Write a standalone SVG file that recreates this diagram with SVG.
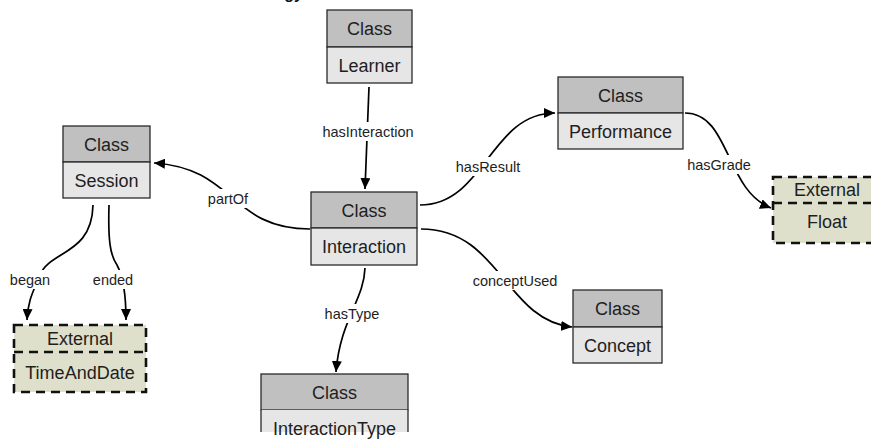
<svg xmlns="http://www.w3.org/2000/svg" width="871" height="441" viewBox="0 0 871 441">
<style>
.hdr{fill:#c0c0c0;stroke:#2a2a2a;stroke-width:1.3}
.bdy{fill:#e6e6e6;stroke:#2a2a2a;stroke-width:1.3}
.ext{fill:#dee0cb;stroke:none}
.dash{fill:none;stroke:#111;stroke-width:2.6;stroke-dasharray:9 6}
.nt{font-family:"Liberation Sans",Arial,sans-serif;font-size:18px;fill:#1e1e1e;text-anchor:middle}
.lbl{font-family:"Liberation Sans",Arial,sans-serif;font-size:14.5px;fill:#1e1e1e;text-anchor:middle}
.edge{fill:none;stroke:#000;stroke-width:1.7;marker-end:url(#arr)}
.lbg{fill:#fff}
.ttl{font-family:"Liberation Sans",Arial,sans-serif;font-size:16px;font-weight:bold;fill:#111;text-anchor:end}
</style>
<defs>
<marker id="arr" markerUnits="userSpaceOnUse" markerWidth="12" markerHeight="10" refX="11" refY="5" orient="auto">
<path d="M0,0 L11,5 L0,10 z" fill="#000"/>
</marker>
</defs>
<rect width="871" height="441" fill="#fff"/>
<text class="ttl" x="303" y="-1">Ontology</text>

<g id="connectors">
<path class="edge" d="M369 87 L365 189"/>
<path class="edge" d="M310 229 C230 229 235 168 154 163"/>
<path class="edge" d="M93 205 C92 255 50 250 40 275 C33 292 28 300 27 320"/>
<path class="edge" d="M109 205 C108 240 110 255 117 265 C124 278 126 295 126 320"/>
<path class="edge" d="M365 268 C364 300 340 320 336 372"/>
<path class="edge" d="M420 205 C485 205 490 113 555 113"/>
<path class="edge" d="M685 113 C730 113 725 190 771 208"/>
<path class="edge" d="M421 229 C500 229 505 320 572 327"/>
<rect class="lbg" x="320" y="122" width="96" height="19"/>
<text class="lbl" x="368" y="137">hasInteraction</text>
<rect class="lbg" x="206" y="189" width="44" height="19"/>
<text class="lbl" x="228" y="204">partOf</text>
<rect class="lbg" x="8" y="270" width="44" height="19"/>
<text class="lbl" x="30" y="285">began</text>
<rect class="lbg" x="91" y="270" width="44" height="19"/>
<text class="lbl" x="113" y="285">ended</text>
<rect class="lbg" x="323" y="304" width="58" height="19"/>
<text class="lbl" x="352" y="319">hasType</text>
<rect class="lbg" x="455" y="157" width="66" height="19"/>
<text class="lbl" x="488" y="172">hasResult</text>
<rect class="lbg" x="686" y="155" width="66" height="19"/>
<text class="lbl" x="719" y="170">hasGrade</text>
<rect class="lbg" x="472" y="271" width="87" height="19"/>
<text class="lbl" x="515" y="286">conceptUsed</text>
</g>

<g id="node-learner">
<rect class="hdr" x="327" y="10" width="85" height="37"/>
<rect class="bdy" x="327" y="47" width="85" height="36"/>
<text class="nt" x="369.5" y="35">Class</text>
<text class="nt" x="369.5" y="71.5">Learner</text>
</g>

<g id="node-session">
<rect class="hdr" x="63" y="126" width="87" height="36"/>
<rect class="bdy" x="63" y="162" width="87" height="36"/>
<text class="nt" x="106.5" y="150.5">Class</text>
<text class="nt" x="106.5" y="186.5">Session</text>
</g>

<g id="node-interaction">
<rect class="hdr" x="311" y="192" width="106" height="36"/>
<rect class="bdy" x="311" y="228" width="106" height="37"/>
<text class="nt" x="364" y="216.5">Class</text>
<text class="nt" x="364" y="253">Interaction</text>
</g>

<g id="node-performance">
<rect class="hdr" x="558" y="77" width="125" height="36"/>
<rect class="bdy" x="558" y="113" width="125" height="36"/>
<text class="nt" x="620.5" y="101.5">Class</text>
<text class="nt" x="620.5" y="137.5">Performance</text>
</g>

<g id="node-concept">
<rect class="hdr" x="573" y="290" width="89" height="37"/>
<rect class="bdy" x="573" y="327" width="89" height="36"/>
<text class="nt" x="617.5" y="315">Class</text>
<text class="nt" x="617.5" y="351.5">Concept</text>
</g>

<g id="node-interactiontype">
<rect class="hdr" x="261" y="374" width="147" height="36"/>
<rect x="261" y="410" width="147" height="22" fill="#e6e6e6"/>
<path d="M261 410 V432 M408 410 V432" stroke="#2a2a2a" stroke-width="1.3" fill="none"/>
<text class="nt" x="334.5" y="398.5">Class</text>
<text class="nt" x="334.5" y="434.5">InteractionType</text>
</g>

<g id="node-timeanddate">
<rect class="ext" x="14" y="325" width="132" height="67"/>
<rect class="dash" x="14" y="325" width="132" height="67"/>
<path class="dash" d="M14 352 H146"/>
<text class="nt" x="80" y="344.5">External</text>
<text class="nt" x="80" y="378.5">TimeAndDate</text>
</g>

<g id="node-float">
<rect class="ext" x="773" y="177" width="108" height="66"/>
<rect class="dash" x="773" y="177" width="108" height="66"/>
<path class="dash" d="M773 203 H881"/>
<text class="nt" x="827" y="196">External</text>
<text class="nt" x="827" y="228">Float</text>
</g>
</svg>
